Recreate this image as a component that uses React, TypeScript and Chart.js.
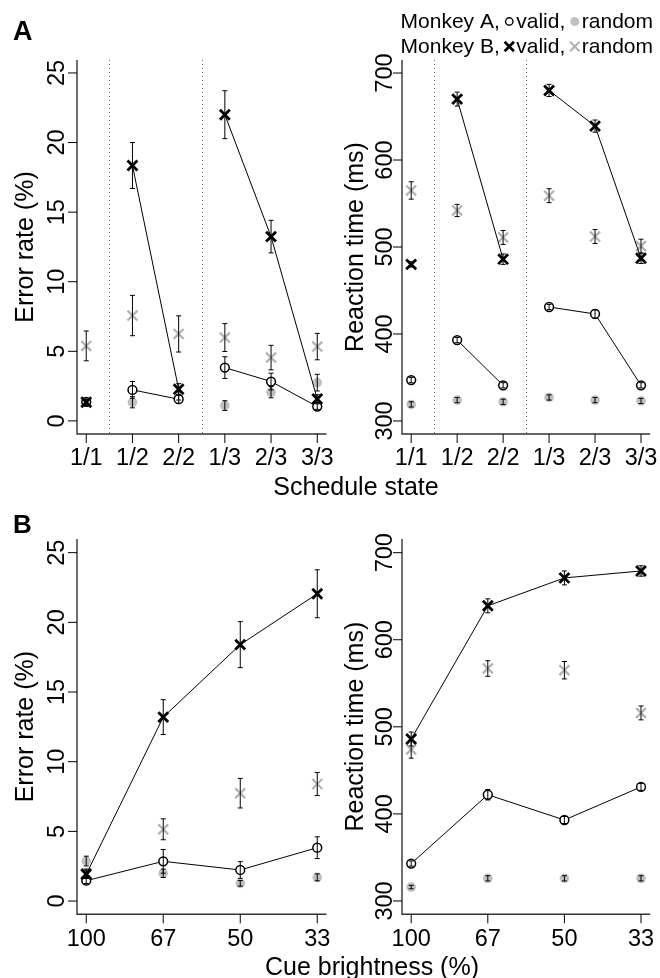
import React, { useEffect, useRef } from 'react';
import { Chart, registerables } from 'chart.js';

Chart.register(...registerables);

const W = 660;
const H = 978;
const FONT = '"Liberation Sans", Arial, Helvetica, sans-serif';

// ---------- categories / ticks ----------
const scheduleStates = ['1/1', '1/2', '2/2', '1/3', '2/3', '3/3'];
const scheduleGroups = [1, 2, 2, 3, 3, 3];
const brightnessLevels = ['100', '67', '50', '33'];
const errorTicks = [0, 5, 10, 15, 20, 25];
const rtTicks = [300, 400, 500, 600, 700];

// ---------- A: schedule state, error rate (%) ----------
const schedErrAValid = [1.37, 2.23, 1.56, 3.83, 2.83, 1.03];
const schedErrAValidSE = [0.2, 0.6, 0.3, 0.78, 0.6, 0.2];
const schedErrARandom = [1.35, 1.34, 1.8, 1.1, 2.06, 2.75];
const schedErrARandomSE = [0.2, 0.4, 0.3, 0.35, 0.4, 0.6];
const schedErrBValid = [1.34, 18.35, 2.28, 22.0, 13.24, 1.58];
const schedErrBValidSE = [0.2, 1.65, 0.4, 1.72, 1.17, 0.3];
const schedErrBRandom = [5.39, 7.57, 6.25, 5.99, 4.55, 5.34];
const schedErrBRandomSE = [1.07, 1.45, 1.3, 1.0, 0.88, 0.95];

// ---------- A: schedule state, reaction time (ms) ----------
const schedRtAValid = [347, 393, 341, 431, 423, 341];
const schedRtAValidSE = [3, 3, 3, 3, 5, 3];
const schedRtARandom = [319, 324, 322, 327, 324, 323];
const schedRtARandomSE = [3, 3, 3, 3, 3, 3];
const schedRtBValid = [480, 670, 486, 680, 639, 487];
const schedRtBValidSE = [3, 8, 6, 7, 7, 6];
const schedRtBRandom = [565, 542, 511, 559, 512, 501];
const schedRtBRandomSE = [10, 7, 8, 8, 8, 8];

// ---------- B: cue brightness, error rate (%) ----------
const brErrAValid = [1.46, 2.85, 2.23, 3.83];
const brErrAValidSE = [0.2, 0.85, 0.6, 0.78];
const brErrARandom = [2.87, 1.99, 1.27, 1.7];
const brErrARandomSE = [0.35, 0.3, 0.2, 0.25];
const brErrBValid = [1.92, 13.2, 18.4, 22.05];
const brErrBValidSE = [0.3, 1.25, 1.65, 1.72];
const brErrBRandom = [2.0, 5.15, 7.74, 8.4];
const brErrBRandomSE = [0.3, 0.75, 1.06, 0.83];

// ---------- B: cue brightness, reaction time (ms) ----------
const brRtAValid = [343, 422, 393, 431];
const brRtAValidSE = [3, 6, 4, 4];
const brRtARandom = [316, 326, 326, 326];
const brRtARandomSE = [2, 3, 3, 3];
const brRtBValid = [486, 639, 671, 679];
const brRtBValidSE = [8, 8, 8, 6];
const brRtBRandom = [474, 567, 565, 516];
const brRtBRandomSE = [10, 9, 10, 8];

type Area = { left: number; top: number; right: number; bottom: number };
type PanelCfg = {
  area: Area;
  xLabels: string[];
  groups: number[] | null;
  yMin: number;
  yMax: number;
  yTicks: number[];
  yTitle: string;
  yTickGap: number;
  yTitleX: number;
  xTickBaseline: number;
  aValid: number[]; aValidSE: number[];
  aRandom: number[]; aRandomSE: number[];
  bValid: number[]; bValidSE: number[];
  bRandom: number[]; bRandomSE: number[];
};

function buildPoints(vals: number[], groups: number[] | null) {
  const pts: { x: number; y: number | null }[] = [];
  vals.forEach((v, i) => {
    if (groups && i > 0 && groups[i] !== groups[i - 1]) pts.push({ x: i + 0.5, y: null });
    pts.push({ x: i + 1, y: v });
  });
  return pts;
}
function buildSE(se: number[], groups: number[] | null) {
  const out: (number | null)[] = [];
  se.forEach((v, i) => {
    if (groups && i > 0 && groups[i] !== groups[i - 1]) out.push(null);
    out.push(v);
  });
  return out;
}

const panelA1: PanelCfg = {
  area: { left: 77, top: 60, right: 326.5, bottom: 434 },
  xLabels: scheduleStates, groups: scheduleGroups,
  yMin: -0.94, yMax: 25.93, yTicks: errorTicks, yTitle: 'Error rate (%)',
  yTickGap: 13, yTitleX: 33, xTickBaseline: 464.5,
  aValid: schedErrAValid, aValidSE: schedErrAValidSE,
  aRandom: schedErrARandom, aRandomSE: schedErrARandomSE,
  bValid: schedErrBValid, bValidSE: schedErrBValidSE,
  bRandom: schedErrBRandom, bRandomSE: schedErrBRandomSE,
};
const panelA2: PanelCfg = {
  area: { left: 402, top: 60, right: 652, bottom: 434 },
  xLabels: scheduleStates, groups: scheduleGroups,
  yMin: 285, yMax: 715, yTicks: rtTicks, yTitle: 'Reaction time (ms)',
  yTickGap: 10.5, yTitleX: 362.5, xTickBaseline: 464.5,
  aValid: schedRtAValid, aValidSE: schedRtAValidSE,
  aRandom: schedRtARandom, aRandomSE: schedRtARandomSE,
  bValid: schedRtBValid, bValidSE: schedRtBValidSE,
  bRandom: schedRtBRandom, bRandomSE: schedRtBRandomSE,
};
const panelB1: PanelCfg = {
  area: { left: 77, top: 539, right: 326.5, bottom: 914.3 },
  xLabels: brightnessLevels, groups: null,
  yMin: -0.95, yMax: 25.98, yTicks: errorTicks, yTitle: 'Error rate (%)',
  yTickGap: 13, yTitleX: 33, xTickBaseline: 946,
  aValid: brErrAValid, aValidSE: brErrAValidSE,
  aRandom: brErrARandom, aRandomSE: brErrARandomSE,
  bValid: brErrBValid, bValidSE: brErrBValidSE,
  bRandom: brErrBRandom, bRandomSE: brErrBRandomSE,
};
const panelB2: PanelCfg = {
  area: { left: 402, top: 539, right: 652, bottom: 914.3 },
  xLabels: brightnessLevels, groups: null,
  yMin: 284.7, yMax: 715.7, yTicks: rtTicks, yTitle: 'Reaction time (ms)',
  yTickGap: 10.5, yTitleX: 362.5, xTickBaseline: 946,
  aValid: brRtAValid, aValidSE: brRtAValidSE,
  aRandom: brRtARandom, aRandomSE: brRtARandomSE,
  bValid: brRtBValid, bValidSE: brRtBValidSE,
  bRandom: brRtBRandom, bRandomSE: brRtBRandomSE,
};

const BLACK = '#000000';
const AXIS = '#333333';
const GRAY_X = '#b3b3b3';
const GRAY_DOT = '#c0c0c0';

function drawGlobal(ctx: CanvasRenderingContext2D) {
  ctx.save();
  ctx.fillStyle = BLACK;
  ctx.textAlign = 'left';
  ctx.textBaseline = 'alphabetic';
  ctx.font = `bold 27px ${FONT}`;
  ctx.fillText('A', 13, 40);
  ctx.font = `bold 26px ${FONT}`;
  ctx.fillText('B', 13, 533);

  ctx.font = `25px ${FONT}`;
  ctx.textAlign = 'center';
  ctx.fillText('Schedule state', 356, 495);
  ctx.fillText('Cue brightness (%)', 372, 975);

  // legend
  ctx.font = `21px ${FONT}`;
  ctx.textAlign = 'left';
  const lines = [
    { name: 'Monkey A,', sym: 'circle', y: 28 },
    { name: 'Monkey B,', sym: 'cross', y: 53 },
  ];
  lines.forEach((ln) => {
    const wName = ctx.measureText(ln.name).width;
    const wValid = ctx.measureText('valid,').width;
    const wRandom = ctx.measureText('random').width;
    const symW = 11;
    const total = wName + 4 + symW + 1.5 + wValid + 4 + symW + 1.5 + wRandom;
    let cx = 653 - total;
    ctx.fillStyle = BLACK;
    ctx.fillText(ln.name, cx, ln.y);
    cx += wName + 4;
    const symY = ln.y - 6.5;
    if (ln.sym === 'circle') {
      ctx.beginPath();
      ctx.strokeStyle = BLACK;
      ctx.lineWidth = 1.4;
      ctx.arc(cx + symW / 2, symY, 3.7, 0, Math.PI * 2);
      ctx.stroke();
    } else {
      ctx.beginPath();
      ctx.strokeStyle = BLACK;
      ctx.lineWidth = 2.7;
      const c = cx + symW / 2, d = 4.7;
      ctx.moveTo(c - d, symY - d); ctx.lineTo(c + d, symY + d);
      ctx.moveTo(c + d, symY - d); ctx.lineTo(c - d, symY + d);
      ctx.stroke();
    }
    cx += symW + 1.5;
    ctx.fillStyle = BLACK;
    ctx.fillText('valid,', cx, ln.y);
    cx += wValid + 4;
    if (ln.sym === 'circle') {
      ctx.beginPath();
      ctx.fillStyle = GRAY_DOT;
      ctx.arc(cx + symW / 2, symY, 4.5, 0, Math.PI * 2);
      ctx.fill();
    } else {
      ctx.beginPath();
      ctx.strokeStyle = GRAY_X;
      ctx.lineWidth = 2.2;
      const c = cx + symW / 2, d = 4.7;
      ctx.moveTo(c - d, symY - d); ctx.lineTo(c + d, symY + d);
      ctx.moveTo(c + d, symY - d); ctx.lineTo(c - d, symY + d);
      ctx.stroke();
    }
    cx += symW + 1.5;
    ctx.fillStyle = BLACK;
    ctx.fillText('random', cx, ln.y);
  });
  ctx.restore();
}

function makeConfig(p: PanelCfg, withGlobal: boolean): any {
  const n = p.xLabels.length;
  const pad = 0.04 * (n - 1);
  const datasets: any[] = [
    {
      label: 'Monkey B valid',
      data: buildPoints(p.bValid, p.groups),
      se: buildSE(p.bValidSE, p.groups),
      showLine: true, spanGaps: false,
      borderColor: BLACK, borderWidth: 1,
      pointStyle: 'crossRot', pointRadius: 7, pointBorderWidth: 2.8,
      pointBorderColor: BLACK, pointBackgroundColor: BLACK,
      clip: false,
    },
    {
      label: 'Monkey A valid',
      data: buildPoints(p.aValid, p.groups),
      se: buildSE(p.aValidSE, p.groups),
      showLine: true, spanGaps: false,
      borderColor: BLACK, borderWidth: 1,
      pointStyle: 'circle', pointRadius: 4.4, pointBorderWidth: 1.5,
      pointBorderColor: BLACK, pointBackgroundColor: 'rgba(255,255,255,1)',
      clip: false,
    },
    {
      label: 'Monkey B random',
      data: buildPoints(p.bRandom, null),
      se: buildSE(p.bRandomSE, null),
      showLine: false,
      pointStyle: 'crossRot', pointRadius: 7, pointBorderWidth: 2.3,
      pointBorderColor: GRAY_X, pointBackgroundColor: GRAY_X,
      clip: false,
    },
    {
      label: 'Monkey A random',
      data: buildPoints(p.aRandom, null),
      se: buildSE(p.aRandomSE, null),
      showLine: false,
      pointStyle: 'circle', pointRadius: 4.8, pointBorderWidth: 0,
      pointBorderColor: GRAY_DOT, pointBackgroundColor: GRAY_DOT,
      clip: false,
    },
  ];

  const decor = {
    id: 'panelDecor',
    beforeDatasetsDraw(chart: any) {
      const { ctx, chartArea: a, scales } = chart;
      if (!p.groups) return;
      ctx.save();
      ctx.strokeStyle = '#666';
      ctx.lineWidth = 1;
      ctx.setLineDash([1, 3]);
      for (let i = 1; i < p.groups.length; i++) {
        if (p.groups[i] !== p.groups[i - 1]) {
          const px = Math.round(scales.x.getPixelForValue(i + 0.5)) + 0.5;
          ctx.beginPath();
          ctx.moveTo(px, a.top);
          ctx.lineTo(px, a.bottom);
          ctx.stroke();
        }
      }
      ctx.restore();
    },
    afterDatasetsDraw(chart: any) {
      const { ctx, scales } = chart;
      ctx.save();
      ctx.strokeStyle = BLACK;
      ctx.lineWidth = 1;
      chart.data.datasets.forEach((ds: any) => {
        ds.data.forEach((pt: any, j: number) => {
          const se = ds.se[j];
          if (pt.y == null || se == null) return;
          const px = scales.x.getPixelForValue(pt.x);
          const y1 = scales.y.getPixelForValue(pt.y + se);
          const y2 = scales.y.getPixelForValue(pt.y - se);
          ctx.beginPath();
          ctx.moveTo(px, y1); ctx.lineTo(px, y2);
          ctx.moveTo(px - 2.5, y1); ctx.lineTo(px + 2.5, y1);
          ctx.moveTo(px - 2.5, y2); ctx.lineTo(px + 2.5, y2);
          ctx.stroke();
        });
      });
      ctx.restore();
    },
    afterDraw(chart: any) {
      const { ctx, chartArea: a, scales } = chart;
      ctx.save();
      ctx.strokeStyle = AXIS;
      ctx.lineWidth = 1.4;
      ctx.beginPath();
      ctx.moveTo(a.left, a.top);
      ctx.lineTo(a.left, a.bottom);
      ctx.lineTo(a.right, a.bottom);
      ctx.stroke();

      ctx.lineWidth = 1;
      ctx.strokeStyle = BLACK;
      ctx.fillStyle = BLACK;
      ctx.font = `23.5px ${FONT}`;
      p.yTicks.forEach((v) => {
        const py = scales.y.getPixelForValue(v);
        ctx.beginPath();
        ctx.moveTo(a.left - 9, py);
        ctx.lineTo(a.left, py);
        ctx.stroke();
        ctx.save();
        ctx.translate(a.left - p.yTickGap, py);
        ctx.rotate(-Math.PI / 2);
        ctx.textAlign = 'center';
        ctx.textBaseline = 'alphabetic';
        ctx.fillText(String(v), 0, 0);
        ctx.restore();
      });
      p.xLabels.forEach((lab, i) => {
        const px = scales.x.getPixelForValue(i + 1);
        ctx.beginPath();
        ctx.moveTo(px, a.bottom);
        ctx.lineTo(px, a.bottom + 9);
        ctx.stroke();
        ctx.textAlign = 'center';
        ctx.textBaseline = 'alphabetic';
        ctx.fillText(lab, px, p.xTickBaseline);
      });
      ctx.font = `25px ${FONT}`;
      ctx.save();
      ctx.translate(p.yTitleX, (a.top + a.bottom) / 2);
      ctx.rotate(-Math.PI / 2);
      ctx.textAlign = 'center';
      ctx.textBaseline = 'alphabetic';
      ctx.fillText(p.yTitle, 0, 0);
      ctx.restore();
      ctx.restore();
      if (withGlobal) drawGlobal(ctx);
    },
  };

  return {
    type: 'scatter',
    data: { datasets },
    options: {
      animation: false,
      responsive: false,
      devicePixelRatio: 1,
      layout: {
        padding: {
          left: p.area.left,
          top: p.area.top,
          right: W - p.area.right,
          bottom: H - p.area.bottom,
        },
      },
      scales: {
        x: { type: 'linear', min: 1 - pad, max: n + pad, display: false },
        y: { type: 'linear', min: p.yMin, max: p.yMax, display: false },
      },
      plugins: { legend: { display: false }, tooltip: { enabled: false } },
      events: [],
    },
    plugins: [decor],
  };
}

export default function App() {
  const r1 = useRef<HTMLCanvasElement>(null);
  const r2 = useRef<HTMLCanvasElement>(null);
  const r3 = useRef<HTMLCanvasElement>(null);
  const r4 = useRef<HTMLCanvasElement>(null);

  useEffect(() => {
    const refs = [r1, r2, r3, r4];
    const cfgs = [panelA1, panelA2, panelB1, panelB2];
    const charts = cfgs.map((cfg, i) => new Chart(refs[i].current as HTMLCanvasElement, makeConfig(cfg, i === 0)));
    return () => charts.forEach((c) => c.destroy());
  }, []);

  const cs: React.CSSProperties = { position: 'absolute', left: 0, top: 0, width: W, height: H };
  return (
    <div style={{ position: 'absolute', left: 0, top: 0, width: W, height: H, background: '#fff' }}>
      <canvas ref={r1} width={W} height={H} style={cs} />
      <canvas ref={r2} width={W} height={H} style={cs} />
      <canvas ref={r3} width={W} height={H} style={cs} />
      <canvas ref={r4} width={W} height={H} style={cs} />
    </div>
  );
}
